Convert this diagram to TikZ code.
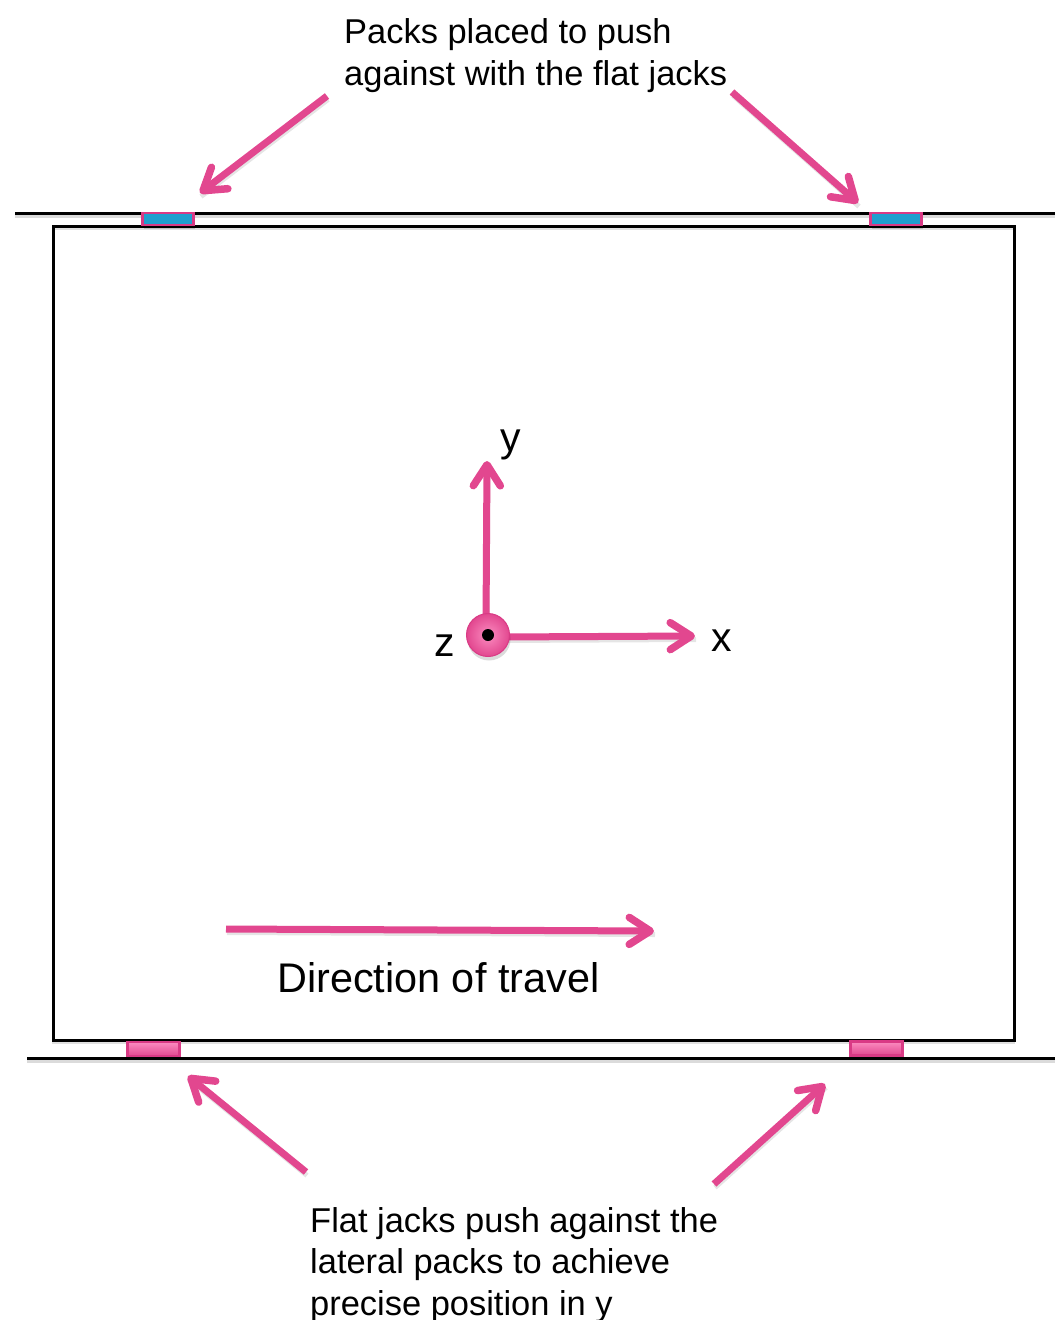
\documentclass[tikz,border=0pt]{standalone}
\usepackage{fontspec}
\setmainfont{Liberation Sans}
\usetikzlibrary{arrows.meta,shadows,calc}
\definecolor{pk}{HTML}{E2478F}
\definecolor{pkdark}{HTML}{D93A85}
\definecolor{pklight}{HTML}{FB8CC0}
\definecolor{bl}{HTML}{1F9FCF}
\tikzset{
 softshadow/.style={general shadow={shadow xshift=1pt,shadow yshift=-4pt,fill=black,opacity=.14}},
 rail/.style={draw=black,line width=3pt,preaction={draw=black!14,line width=3.5pt,transform canvas={yshift=-3.5pt}}},
 pkarrow/.style={draw=pk,line width=7pt,-{Straight Barb[length=21pt,width=27pt,round,line width=7.5pt]},
   preaction={draw=black!10,line width=5pt,-,transform canvas={xshift=1pt,yshift=-3.5pt}}},
 bluepack/.style={draw=pkdark,line width=2.6pt,fill=bl,minimum width=51pt,minimum height=12pt,inner sep=0pt,softshadow},
 pinkpack/.style={draw=pkdark,line width=2.4pt,top color=pklight,bottom color=pk,minimum width=52pt,minimum height=14pt,inner sep=0pt,softshadow},
 lab/.style={inner sep=0pt,align=left,font=\fontsize{34.45}{41.5}\selectfont},
 axlab/.style={inner sep=0pt,font=\fontsize{41}{46}\selectfont},
}
\begin{document}
\begin{tikzpicture}[x=1pt,y=-1pt]
\useasboundingbox (0,0) rectangle (1055,1320);
% free ends
\coordinate (tl) at (15,213); \coordinate (tr) at (1055,213);
\coordinate (bl) at (27,1058); \coordinate (br) at (1055,1058);
\coordinate (a1s) at (327,96); \coordinate (a1e) at (200,193);
\coordinate (a2s) at (732,92); \coordinate (a2e) at (858,203);
\coordinate (a3s) at (306,1172); \coordinate (a3e) at (188,1076);
\coordinate (a4s) at (714,1184); \coordinate (a4e) at (825,1084);
\coordinate (ds) at (226,929); \coordinate (de) at (654,931);
% rails and frame
\draw[rail] (tl) -- (tr);
\draw[rail] (bl) -- (br);
\node[draw=black,line width=3pt,minimum width=961pt,minimum height=814pt,inner sep=0pt,
  preaction={draw=black!12,line width=2.5pt,transform canvas={yshift=-3pt}}] (frame) at (533.5,633) {};
% packs
\node[bluepack] (p1) at (168,219) {};
\node[bluepack] (p2) at (896,219) {};
\node[pinkpack] (p3) at (153.5,1049) {};
\node[pinkpack] (p4) at (876.5,1048.5) {};
% axes
\node[axlab,anchor=center] (ylab) at (511,445) {y};
\node[axlab,anchor=center] (xlab) at (722,641) {x};
\node[axlab,anchor=center] (zlab) at (445,646) {z};
\coordinate (yend) at (487,461);
\coordinate (xend) at (695,636);
\draw[pkarrow] (486,625) -- (yend);
\draw[pkarrow] (498,637) -- (xend);
\node[circle,minimum size=43pt,inner sep=0pt,draw=pkdark,line width=1pt,
  inner color=pklight,outer color=pk,softshadow] (origin) at (488,635) {};
\node[circle,fill=black,minimum size=12pt,inner sep=0pt] (dot) at (origin.center) {};
% other arrows
\draw[pkarrow] (a1s) -- (a1e);
\draw[pkarrow] (a2s) -- (a2e);
\draw[pkarrow] (a3s) -- (a3e);
\draw[pkarrow] (a4s) -- (a4e);
\draw[pkarrow] (ds) -- (de);
% texts
\node[lab,anchor=north west] (t1) at (344,18.5) {Packs placed to push\\against with the flat jacks};
\node[lab,anchor=north west] (t2) at (310,1207) {Flat jacks push against the\\lateral packs to achieve\\precise position in y};
\node[inner sep=0pt,anchor=west,font=\fontsize{41.4}{46}\selectfont] (t3) at (277,978) {Direction of travel};
\end{tikzpicture}
\end{document}
